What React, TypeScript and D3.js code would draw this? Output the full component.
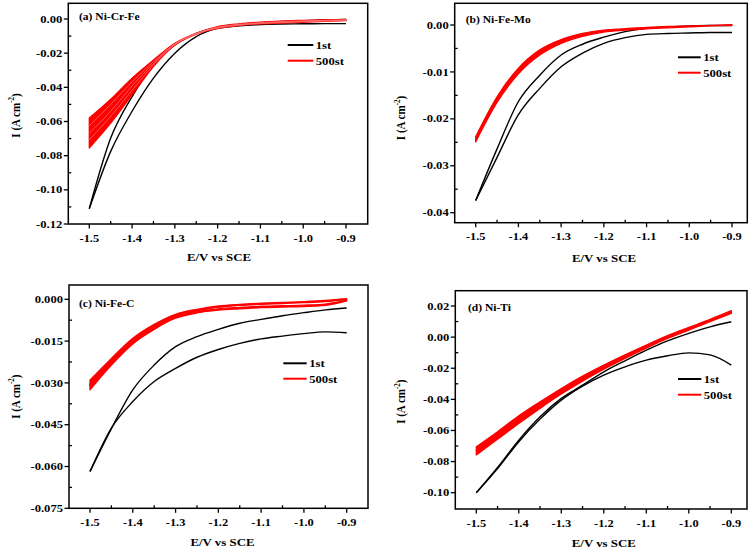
import React from 'react';
import * as d3 from 'd3';

// ---------- data ----------
const E_GRID = [-1.5, -1.45, -1.4, -1.35, -1.3, -1.25, -1.2, -1.15, -1.1, -1.05, -1.0, -0.95, -0.9];

const X_TICKS = [-1.5, -1.4, -1.3, -1.2, -1.1, -1.0, -0.9];
const X_MINOR = [-1.45, -1.35, -1.25, -1.15, -1.05, -0.95];

const A_Y_TICKS = [0, -0.02, -0.04, -0.06, -0.08, -0.1, -0.12];
const A_Y_MINOR = [-0.01, -0.03, -0.05, -0.07, -0.09, -0.11];
const B_Y_TICKS = [0, -0.01, -0.02, -0.03, -0.04];
const B_Y_MINOR = [-0.005, -0.015, -0.025, -0.035];
const C_Y_TICKS = [0, -0.015, -0.03, -0.045, -0.06, -0.075];
const C_Y_MINOR = [-0.0075, -0.0225, -0.0375, -0.0525, -0.0675];
const D_Y_TICKS = [0.02, 0, -0.02, -0.04, -0.06, -0.08, -0.1];
const D_Y_MINOR = [0.01, -0.01, -0.03, -0.05, -0.07, -0.09];

const SERIES_NAMES = ['1st', '500st'];
const PANEL_TITLES = ['(a) Ni-Cr-Fe', '(b) Ni-Fe-Mo', '(c) Ni-Fe-C', '(d) Ni-Ti'];

// (a) Ni-Cr-Fe
const A_1ST_FWD = [-0.111, -0.0697, -0.0454, -0.0269, -0.0152, -0.0084, -0.0049, -0.0032, -0.0022, -0.0015, -0.001, -0.0006, -0.0002];
const A_1ST_REV = [-0.111, -0.0775, -0.054, -0.0346, -0.02, -0.0103, -0.0055, -0.004, -0.0032, -0.0029, -0.0028, -0.0027, -0.0027];
const A_500_R1 = [-0.058, -0.047, -0.0346, -0.024, -0.0142, -0.0084, -0.0045, -0.0028, -0.0018, -0.0012, -0.0008, -0.0005, -0.0003];
const A_500_R2 = [-0.0625, -0.05, -0.0368, -0.025, -0.0145, -0.0085, -0.0048, -0.0031, -0.0021, -0.0015, -0.0011, -0.0008, -0.0005];
const A_500_R3 = [-0.0668, -0.054, -0.0392, -0.026, -0.0148, -0.0086, -0.005, -0.0033, -0.0024, -0.0018, -0.0014, -0.001, -0.0007];
const A_500_R4 = [-0.0707, -0.057, -0.0418, -0.027, -0.015, -0.0087, -0.0053, -0.0036, -0.0027, -0.0021, -0.0016, -0.0012, -0.0008];
const A_500_R5 = [-0.0755, -0.061, -0.0444, -0.0278, -0.0152, -0.0088, -0.0055, -0.0038, -0.0029, -0.0024, -0.0019, -0.0014, -0.001];

// (b) Ni-Fe-Mo
const B_1ST_FWD = [-0.0374, -0.0264, -0.0163, -0.0107, -0.0064, -0.0041, -0.0026, -0.0014, -0.0007, -0.0004, -0.0002, -0.0001, -0.0001];
const B_1ST_REV = [-0.0374, -0.0282, -0.0191, -0.0135, -0.0089, -0.006, -0.0039, -0.0027, -0.002, -0.0018, -0.0017, -0.0016, -0.0016];
const B_500_UP = [-0.0238, -0.0153, -0.0092, -0.0053, -0.0031, -0.0018, -0.0011, -0.0008, -0.0005, -0.0003, -0.0002, -0.0001, 0.0001];
const B_500_LO = [-0.0249, -0.0165, -0.0104, -0.0064, -0.0039, -0.0024, -0.0015, -0.0011, -0.0008, -0.0006, -0.0004, -0.0002, -0.0001];

// (c) Ni-Fe-C
const C_1ST_FWD = [-0.0618, -0.0464, -0.0325, -0.0236, -0.017, -0.0134, -0.0108, -0.0086, -0.0072, -0.0059, -0.0048, -0.0038, -0.0031];
const C_1ST_REV = [-0.0618, -0.0462, -0.0367, -0.0295, -0.0248, -0.0208, -0.018, -0.0158, -0.0142, -0.0132, -0.0123, -0.0117, -0.012];
const C_500_ANO_UP = [-0.029, -0.0212, -0.014, -0.009, -0.0054, -0.0036, -0.0024, -0.0018, -0.0014, -0.0011, -0.0008, -0.0004, 0.0002];
const C_500_ANO_LO = [-0.031, -0.0226, -0.0151, -0.0099, -0.0061, -0.0041, -0.0029, -0.0022, -0.0018, -0.0015, -0.0012, -0.0008, -0.0001];
const C_500_CAT_UP = [-0.0305, -0.0222, -0.0149, -0.0099, -0.0062, -0.0044, -0.0034, -0.0029, -0.0025, -0.0023, -0.0021, -0.0017, -0.0003];
const C_500_CAT_LO = [-0.0325, -0.0236, -0.016, -0.0108, -0.0068, -0.0049, -0.0039, -0.0034, -0.003, -0.0028, -0.0026, -0.0022, -0.0006];

// (d) Ni-Ti
const D_1ST_FWD = [-0.1, -0.0838, -0.0662, -0.0512, -0.0394, -0.0309, -0.0223, -0.0152, -0.0084, -0.0024, 0.0024, 0.0066, 0.0099];
const D_1ST_REV = [-0.1, -0.0845, -0.0672, -0.0527, -0.0405, -0.0315, -0.0244, -0.0191, -0.0148, -0.012, -0.0101, -0.0114, -0.018];
const D_500_UP = [-0.0705, -0.0608, -0.0506, -0.0416, -0.033, -0.0251, -0.018, -0.0114, -0.0051, 0.0009, 0.0062, 0.0114, 0.017];
const D_500_LO = [-0.0757, -0.0657, -0.0555, -0.0458, -0.0366, -0.0283, -0.0206, -0.0137, -0.0071, -0.0009, 0.0045, 0.0099, 0.0152];

// ---------- layout ----------
const FONT = "'Liberation Serif', 'Times New Roman', serif";
const BLACK = '#000000';
const RED = '#ff0000';

type PanelCfg = {
  title: string;
  box: { l: number; r: number; t: number; b: number };
  xPx: [number, number];
  yMap: [number, number, number, number];
  yTicks: number[];
  yMinor: number[];
  dec: number;
  black: number[][];
  bands: [number[], number[]][];
  streaks: number[][];
  titlePos: [number, number];
  legend: [number, number, number, number];
  yLabel: [number, number];
  xLabel: [number, number];
};

const PANELS: PanelCfg[] = [
  {
    title: PANEL_TITLES[0],
    box: { l: 68.3, r: 367.7, t: 3.3, b: 224 },
    xPx: [89.3, 346],
    yMap: [0, 19, -0.12, 224],
    yTicks: A_Y_TICKS,
    yMinor: A_Y_MINOR,
    dec: 2,
    black: [A_1ST_FWD, A_1ST_REV],
    bands: [[A_500_R1, A_500_R5]],
    streaks: [A_500_R2, A_500_R3, A_500_R4],
    titlePos: [79, 19.5],
    legend: [287.7, 313.3, 45, 60.7],
    yLabel: [19.5, 115.5],
    xLabel: [219, 261],
  },
  {
    title: PANEL_TITLES[1],
    box: { l: 454.7, r: 747.3, t: 3.3, b: 222.7 },
    xPx: [475.7, 732],
    yMap: [0, 25, -0.04, 212.7],
    yTicks: B_Y_TICKS,
    yMinor: B_Y_MINOR,
    dec: 2,
    black: [B_1ST_FWD, B_1ST_REV],
    bands: [[B_500_UP, B_500_LO]],
    streaks: [],
    titlePos: [465.7, 22.5],
    legend: [678, 700.7, 57.3, 72.7],
    yLabel: [405, 118],
    xLabel: [604, 261.5],
  },
  {
    title: PANEL_TITLES[2],
    box: { l: 69, r: 368, t: 285, b: 508.3 },
    xPx: [90, 346.7],
    yMap: [0, 299.3, -0.075, 508.3],
    yTicks: C_Y_TICKS,
    yMinor: C_Y_MINOR,
    dec: 3,
    black: [C_1ST_FWD, C_1ST_REV],
    bands: [
      [C_500_ANO_UP, C_500_ANO_LO],
      [C_500_CAT_UP, C_500_CAT_LO],
    ],
    streaks: [],
    titlePos: [79, 306.5],
    legend: [283.3, 306.7, 363.3, 378.7],
    yLabel: [19.5, 396.7],
    xLabel: [222.5, 545.5],
  },
  {
    title: PANEL_TITLES[3],
    box: { l: 455.3, r: 747, t: 290.7, b: 509 },
    xPx: [476.3, 731.3],
    yMap: [0.02, 306, -0.1, 492.7],
    yTicks: D_Y_TICKS,
    yMinor: D_Y_MINOR,
    dec: 2,
    black: [D_1ST_FWD, D_1ST_REV],
    bands: [[D_500_UP, D_500_LO]],
    streaks: [],
    titlePos: [468, 311],
    legend: [678, 701.3, 379, 394.7],
    yLabel: [405.3, 401.7],
    xLabel: [603.8, 546.5],
  },
];

function SText(props: {
  x: number; y: number; size: number; sx?: number; anchor?: string; children: React.ReactNode;
}) {
  const { x, y, size, sx = 1.2, anchor = 'start', children } = props;
  return (
    <text
      transform={`translate(${x},${y}) scale(${sx},1)`}
      fontFamily={FONT}
      fontWeight="bold"
      fontSize={size}
      textAnchor={anchor}
      fill="#000"
    >
      {children}
    </text>
  );
}

function Panel({ p }: { p: PanelCfg }) {
  const x = d3.scaleLinear().domain([-1.5, -0.9]).range(p.xPx);
  const y = d3.scaleLinear().domain([p.yMap[0], p.yMap[2]]).range([p.yMap[1], p.yMap[3]]);
  const line = d3
    .line<number>()
    .x((_, i) => x(E_GRID[i]))
    .y((v) => y(v))
    .curve(d3.curveMonotoneX);
  const { l, r, t, b } = p.box;
  const inRange = (v: number) => y(v) > t + 2 && y(v) < b - 2;
  const idx = E_GRID.map((_, i) => i);

  const bandPaths = p.bands.map(([up, lo]) =>
    d3
      .area<number>()
      .x((i) => x(E_GRID[i]))
      .y0((i) => y(lo[i]))
      .y1((i) => y(up[i]))
      .curve(d3.curveMonotoneX)(idx) || ''
  );

  const [lx1, lx2, ly1, ly2] = p.legend;

  return (
    <g>
      {/* data: 1st cycle */}
      {p.black.map((s, i) => (
        <path key={'k' + i} d={line(s) || ''} fill="none" stroke={BLACK} strokeWidth={1.4} strokeLinejoin="round" />
      ))}
      {/* data: 500th cycles */}
      {bandPaths.map((d, i) => (
        <path key={'bf' + i} d={d} fill={RED} stroke={RED} strokeWidth={1.3} strokeLinejoin="round" />
      ))}
      {p.streaks.map((s, i) => (
        <path key={'st' + i} d={line(s) || ''} fill="none" stroke="#ff7a7a" strokeWidth={0.7} />
      ))}

      {/* frame */}
      <rect x={l} y={t} width={r - l} height={b - t} fill="none" stroke="#000" strokeWidth={1.5} />

      {/* x ticks */}
      {X_TICKS.map((v) => (
        <g key={'xt' + v}>
          <line x1={x(v)} x2={x(v)} y1={b} y2={b + 4.5} stroke="#000" strokeWidth={1.3} />
          <SText x={x(v)} y={b + 17.5} size={10.5} sx={1.18} anchor="middle">
            {v.toFixed(1)}
          </SText>
        </g>
      ))}
      {X_MINOR.map((v) => (
        <line key={'xm' + v} x1={x(v)} x2={x(v)} y1={b} y2={b - 3} stroke="#000" strokeWidth={1.3} />
      ))}

      {/* y ticks */}
      {p.yTicks.map((v) => (
        <g key={'yt' + v}>
          <line x1={l - 4.5} x2={l} y1={y(v)} y2={y(v)} stroke="#000" strokeWidth={1.3} />
          <SText x={l - 6} y={y(v) + 3.6} size={10.5} sx={1.2} anchor="end">
            {v === 0 ? (0).toFixed(p.dec) : v.toFixed(p.dec)}
          </SText>
        </g>
      ))}
      {p.yMinor.filter(inRange).map((v) => (
        <line key={'ym' + v} x1={l} x2={l + 3} y1={y(v)} y2={y(v)} stroke="#000" strokeWidth={1.3} />
      ))}

      {/* title */}
      <SText x={p.titlePos[0]} y={p.titlePos[1]} size={10.5} sx={1.1}>
        {p.title}
      </SText>

      {/* legend */}
      <line x1={lx1} x2={lx2} y1={ly1} y2={ly1} stroke={BLACK} strokeWidth={2} />
      <line x1={lx1} x2={lx2} y1={ly2} y2={ly2} stroke={RED} strokeWidth={2} />
      <SText x={lx2 + 2.5} y={ly1 + 4} size={11} sx={1.15}>
        {SERIES_NAMES[0]}
      </SText>
      <SText x={lx2 + 2.5} y={ly2 + 4} size={11} sx={1.15}>
        {SERIES_NAMES[1]}
      </SText>

      {/* axis labels */}
      <SText x={p.xLabel[0]} y={p.xLabel[1]} size={11} sx={1.17} anchor="middle">
        E/V vs SCE
      </SText>
      <text
        transform={`translate(${p.yLabel[0]},${p.yLabel[1]}) rotate(-90) scale(1,1.15)`}
        fontFamily={FONT}
        fontWeight="bold"
        fontSize={11}
        textAnchor="middle"
        fill="#000"
      >
        I (A cm
        <tspan fontSize={7} dy={-4.5}>-2</tspan>
        <tspan dy={4.5}>)</tspan>
      </text>
    </g>
  );
}

export default function App() {
  return (
    <svg
      width={756}
      height={549}
      viewBox="0 0 756 549"
      style={{ position: 'absolute', left: 0, top: 0, background: '#fff' }}
    >
      <rect x={0} y={0} width={756} height={549} fill="#fff" />
      {PANELS.map((p, i) => (
        <Panel key={i} p={p} />
      ))}
    </svg>
  );
}
